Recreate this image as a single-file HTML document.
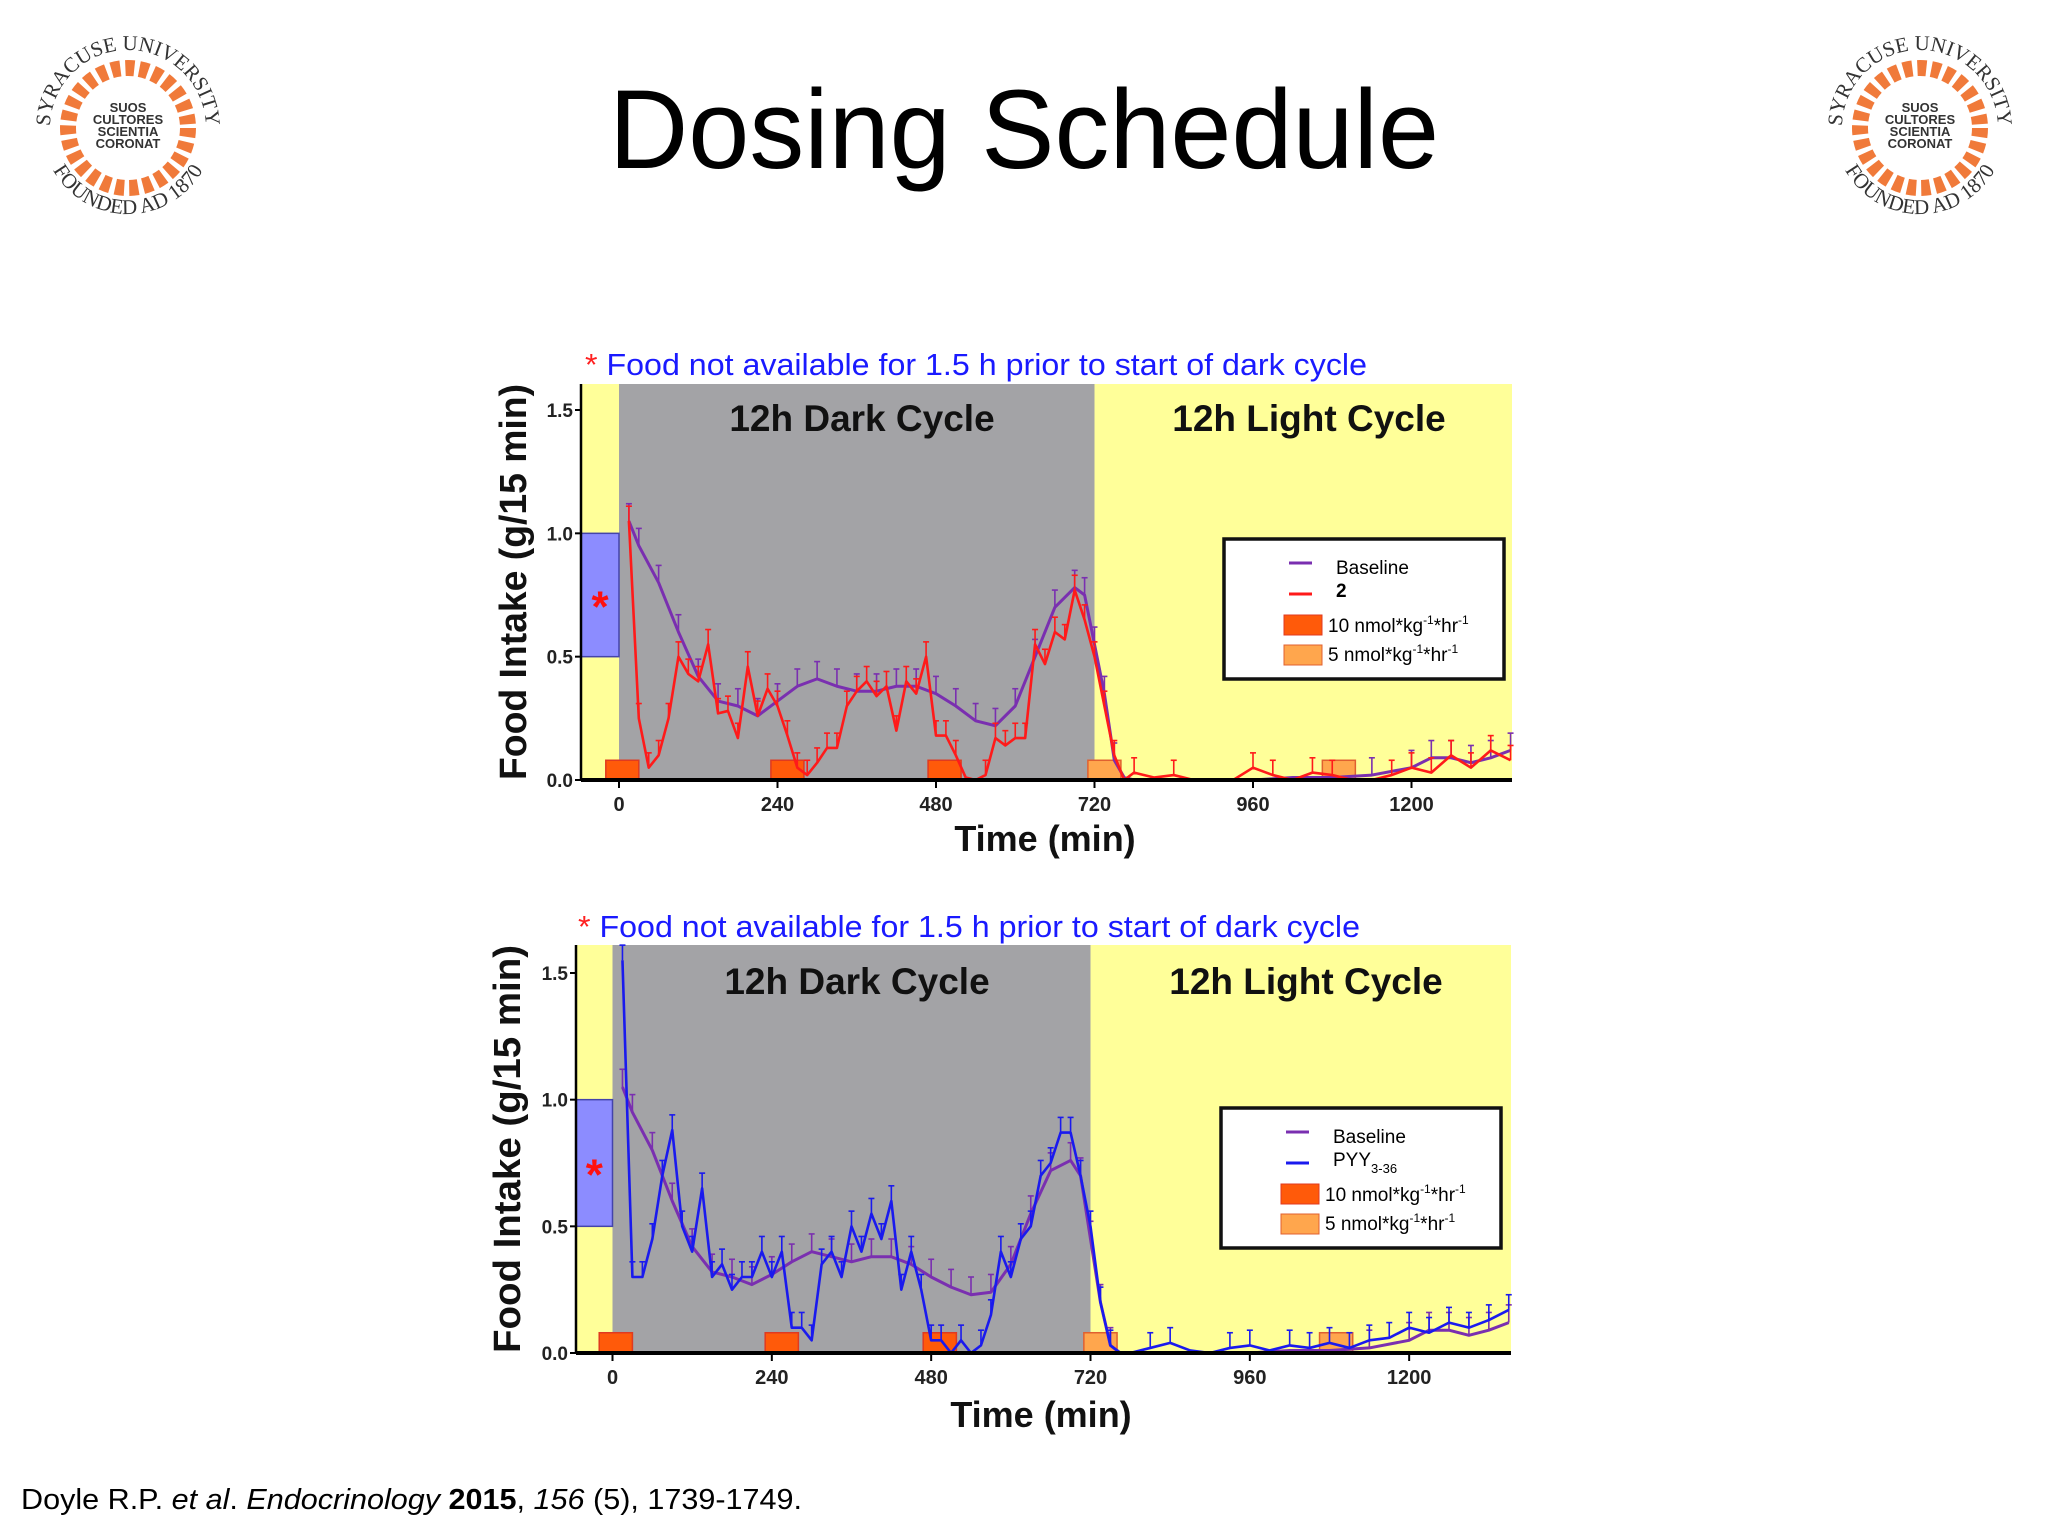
<!DOCTYPE html>
<html><head><meta charset="utf-8"><style>
html,body{margin:0;padding:0;background:#fff;}
svg{display:block;font-family:"Liberation Sans",Arial,sans-serif;}
</style></head><body>
<svg id="page" width="2048" height="1536" viewBox="0 0 2048 1536" xmlns="http://www.w3.org/2000/svg">
<defs>
<path id="ringTop" d="M 50 128 A 78 78 0 0 1 206 128"/>
<path id="ringBot" d="M 42 128 A 86 86 0 0 0 214 128"/>
</defs>
<text x="1024" y="168" text-anchor="middle" font-size="112" textLength="830" lengthAdjust="spacingAndGlyphs">Dosing Schedule</text>
<g id="logoL" transform="translate(0,0)">
 <circle cx="128" cy="128" r="60" fill="none" stroke="#f07a3a" stroke-width="16" stroke-dasharray="9 5"/>
 <text font-size="13" font-weight="bold" fill="#333" text-anchor="middle"><tspan x="128" y="112">SUOS</tspan><tspan x="128" y="124">CULTORES</tspan><tspan x="128" y="136">SCIENTIA</tspan><tspan x="128" y="148">CORONAT</tspan></text>
 <text font-family="Liberation Serif,serif" font-size="21" fill="#333"><textPath href="#ringTop" startOffset="50%" text-anchor="middle">SYRACUSE UNIVERSITY</textPath></text>
 <text font-family="Liberation Serif,serif" font-size="21" fill="#333"><textPath href="#ringBot" startOffset="50%" text-anchor="middle">FOUNDED AD 1870</textPath></text>
</g>
<g transform="translate(1792,0)">
 <circle cx="128" cy="128" r="60" fill="none" stroke="#f07a3a" stroke-width="16" stroke-dasharray="9 5"/>
 <text font-size="13" font-weight="bold" fill="#333" text-anchor="middle"><tspan x="128" y="112">SUOS</tspan><tspan x="128" y="124">CULTORES</tspan><tspan x="128" y="136">SCIENTIA</tspan><tspan x="128" y="148">CORONAT</tspan></text>
 <text font-family="Liberation Serif,serif" font-size="21" fill="#333"><textPath href="#ringTop" startOffset="50%" text-anchor="middle">SYRACUSE UNIVERSITY</textPath></text>
 <text font-family="Liberation Serif,serif" font-size="21" fill="#333"><textPath href="#ringBot" startOffset="50%" text-anchor="middle">FOUNDED AD 1870</textPath></text>
</g>
<text x="21" y="1509" font-size="29" textLength="781" lengthAdjust="spacingAndGlyphs">Doyle R.P. <tspan font-style="italic">et al</tspan>. <tspan font-style="italic">Endocrinology</tspan> <tspan font-weight="bold">2015</tspan>, <tspan font-style="italic">156</tspan> (5), 1739-1749.</text>
<g id="chart1"></g>
<g id="chart2"></g>
</svg>
<script>
// ---- data (top chart) ----
const tTreat1 = [15,30,45,60,75,90,105,120,135,150,165,180,195,210,225,240,255,270,285,300,315,330,345,360,375,390,405,420,435,450,465,480,495,510,525,540,555,570,585,600,615,630,645,660,675,690,705,720,735,750,765,780,810,840,870,900,930,960,990,1020,1050,1080,1110,1140,1170,1200,1230,1260,1290,1320,1350];
const treat1 = [1.05,0.25,0.05,0.1,0.25,0.5,0.43,0.4,0.55,0.27,0.28,0.17,0.46,0.26,0.37,0.3,0.18,0.05,0.02,0.07,0.13,0.13,0.3,0.36,0.4,0.34,0.38,0.2,0.4,0.35,0.5,0.18,0.18,0.1,0.01,0.0,0.02,0.17,0.14,0.17,0.17,0.55,0.47,0.6,0.57,0.77,0.65,0.5,0.3,0.1,0.0,0.03,0.01,0.02,0.0,0.0,0.0,0.05,0.02,0.0,0.03,0.02,0.0,0.0,0.02,0.05,0.03,0.1,0.05,0.12,0.08];
const tBase1 = [15,30,60,90,120,150,180,210,240,270,300,330,360,390,420,450,480,510,540,570,600,630,660,690,705,720,735,750,765,780,840,900,960,1020,1080,1140,1200,1230,1260,1290,1320,1350];
const base1 = [1.05,0.95,0.8,0.6,0.42,0.32,0.3,0.26,0.32,0.38,0.41,0.38,0.36,0.36,0.38,0.38,0.35,0.3,0.24,0.22,0.3,0.5,0.7,0.78,0.75,0.55,0.35,0.08,0.01,0.0,0.0,0.0,0.0,0.01,0.01,0.02,0.05,0.09,0.09,0.07,0.09,0.12];
// ---- data (bottom chart) ----
const tTreat2 = [15,30,45,60,75,90,105,120,135,150,165,180,195,210,225,240,255,270,285,300,315,330,345,360,375,390,405,420,435,450,465,480,495,510,525,540,555,570,585,600,615,630,645,660,675,690,705,720,735,750,765,780,810,840,870,900,930,960,990,1020,1050,1080,1110,1140,1170,1200,1230,1260,1290,1320,1350];
const treat2 = [1.55,0.3,0.3,0.45,0.7,0.88,0.5,0.4,0.65,0.3,0.35,0.25,0.3,0.3,0.4,0.3,0.4,0.1,0.1,0.05,0.35,0.4,0.3,0.5,0.4,0.55,0.45,0.6,0.25,0.4,0.25,0.05,0.05,0.0,0.05,0.0,0.03,0.15,0.4,0.3,0.45,0.5,0.7,0.75,0.87,0.87,0.7,0.5,0.2,0.03,0.0,0.0,0.02,0.04,0.01,0.0,0.02,0.03,0.01,0.03,0.02,0.04,0.02,0.05,0.06,0.1,0.08,0.12,0.1,0.13,0.17];
const tBase2 = [15,30,60,90,120,150,180,210,240,270,300,330,360,390,420,450,480,510,540,570,600,630,660,690,705,720,735,750,765,780,840,900,960,1020,1080,1140,1200,1230,1260,1290,1320,1350];
const base2 = [1.05,0.95,0.8,0.6,0.42,0.32,0.3,0.27,0.31,0.36,0.4,0.38,0.36,0.38,0.38,0.35,0.3,0.26,0.23,0.24,0.35,0.55,0.72,0.76,0.7,0.45,0.2,0.03,0.0,0.0,0.0,0.0,0.0,0.01,0.01,0.02,0.05,0.09,0.09,0.07,0.09,0.12];
// dose periods [start,end] minutes
const doseHigh = [[-20,30],[230,280],[468,518]];
const doseLow = [[710,760],[1065,1115]];
const yTicks = [0.0,0.5,1.0,1.5];
const yTickLabels = ["0.0","0.5","1.0","1.5"];
const xTicks = [0,240,480,720,960,1200];
const errBase = 0.07;
const errTreat = 0.06;

const NS = "http://www.w3.org/2000/svg";
function mk(parent, tag, attrs){ const e=document.createElementNS(NS,tag); for(const k in attrs) e.setAttribute(k,attrs[k]); parent.appendChild(e); return e; }

function drawChart(g, c){
  const X = t => c.x0 + t*(c.x720-c.x0)/720;
  const Y = v => c.y0 - v*(c.y0-c.y15)/1.5;
  let e;
  e = mk(g,'rect',{x:c.left,y:c.top,width:c.right-c.left,height:c.y0-c.top,fill:'#ffff99'});
   
  e = mk(g,'rect',{x:X(0),y:c.top,width:X(720)-X(0),height:c.y0-c.top,fill:'#a3a3a6'});
   
  e = mk(g,'rect',{x:c.left,y:Y(1.0),width:X(0)-c.left,height:Y(0.5)-Y(1.0),fill:'#8c8cff',stroke:'#4444aa','stroke-width':1.5});
   
  e = mk(g,'text',{x:(c.left+X(0))/2,y:Y(0.7)+14,'text-anchor':'middle','font-size':44,fill:'#ff1010','font-weight':'bold'}); e.textContent='*';
   
  e = mk(g,'text',{x:c.darkX,y:c.cycY,'text-anchor':'middle','font-size':37,'font-weight':'bold',fill:'#111'}); e.textContent='12h Dark Cycle';
   
  e = mk(g,'text',{x:c.lightX,y:c.cycY,'text-anchor':'middle','font-size':37,'font-weight':'bold',fill:'#111'}); e.textContent='12h Light Cycle';
   
  doseHigh.forEach(d=>{ e=mk(g,'rect',{x:X(d[0]),y:Y(0.08),width:X(d[1])-X(d[0]),height:Y(0)-Y(0.08),fill:'#ff5a0a',stroke:'#e03a20','stroke-width':1.5});
      });
  doseLow.forEach(d=>{ e=mk(g,'rect',{x:X(d[0]),y:Y(0.08),width:X(d[1])-X(d[0]),height:Y(0)-Y(0.08),fill:'#ffa64d',stroke:'#e06030','stroke-width':1.5});
      });
  function series(ts, vs, err, color, w, name){
    const sg = mk(g,'g',{});
     
    ts.forEach((t,i)=>{ if(vs[i]>0.015){ const l=mk(sg,'line',{x1:X(t),x2:X(t),y1:Y(vs[i]),y2:Y(vs[i]+err),stroke:color,'stroke-width':1.6});
       
      const cap=mk(sg,'line',{x1:X(t)-3,x2:X(t)+3,y1:Y(vs[i]+err),y2:Y(vs[i]+err),stroke:color,'stroke-width':1.6});
        }});
    const p = mk(sg,'polyline',{points:ts.map((t,i)=>X(t)+','+Y(vs[i])).join(' '),fill:'none',stroke:color,'stroke-width':w,'stroke-linejoin':'round'});
     
  }
  series(c.tb, c.b, errBase, '#7a2fb0', 3, 'baseline-series');
  series(c.tt, c.v, errTreat, c.col, 2.6, c.sname);
  e = mk(g,'line',{x1:c.left,x2:c.left,y1:c.top,y2:c.y0,stroke:'#000','stroke-width':2.5});
   
  e = mk(g,'line',{x1:c.left,x2:c.right,y1:c.y0,y2:c.y0,stroke:'#000','stroke-width':4});
   
  yTicks.forEach((v,i)=>{ e=mk(g,'line',{x1:c.left-6,x2:c.left,y1:Y(v),y2:Y(v),stroke:'#000','stroke-width':2});
     
    e=mk(g,'text',{x:c.left-8,y:Y(v)+7,'text-anchor':'end','font-size':19,'font-weight':'bold',fill:'#222'}); e.textContent=yTickLabels[i];
      });
  xTicks.forEach(t=>{ e=mk(g,'line',{x1:X(t),x2:X(t),y1:c.y0,y2:c.y0+8,stroke:'#000','stroke-width':2});
     
    e=mk(g,'text',{x:X(t),y:c.y0+31,'text-anchor':'middle','font-size':20,'font-weight':'bold',fill:'#222'}); e.textContent=String(t);
      });
  e = mk(g,'text',{x:c.xTitleX,y:c.xTitleY,'text-anchor':'middle','font-size':36,'font-weight':'bold',fill:'#111'}); e.textContent='Time (min)';
   
  const ym=(c.top+c.y0)/2;
  e = mk(g,'text',{x:c.yTitleX,y:ym,'text-anchor':'middle','font-size':38,'font-weight':'bold',fill:'#111',transform:`rotate(-90 ${c.yTitleX} ${ym})`,textLength:c.y0-c.top,lengthAdjust:'spacingAndGlyphs'}); e.textContent='Food Intake (g/15 min)';
   
  e = mk(g,'text',{x:c.noteX,y:c.noteY,'font-size':31,fill:'#1a1aff',textLength:782,lengthAdjust:'spacingAndGlyphs'});
  e.innerHTML='<tspan fill="#ff2020">*</tspan> Food not available for 1.5 h prior to start of dark cycle';
   
  const L = mk(g,'g',{});  
  const lx=c.lx, ly=c.ly;
  e=mk(L,'rect',{x:lx,y:ly,width:280,height:140,fill:'#fff',stroke:'#111','stroke-width':3.5});
   
  e=mk(L,'line',{x1:lx+65,x2:lx+88,y1:ly+24,y2:ly+24,stroke:'#7a2fb0','stroke-width':3});
   
  e=mk(L,'text',{x:lx+112,y:ly+35,'font-size':19}); e.textContent='Baseline';
   
  e=mk(L,'line',{x1:lx+65,x2:lx+88,y1:ly+55,y2:ly+55,stroke:c.col,'stroke-width':3});
   
  e=mk(L,'text',{x:lx+112,y:ly+58,'font-size':19,'font-weight':c.legBold?'bold':'normal'}); e.innerHTML=c.legLabel;
   
  e=mk(L,'rect',{x:lx+60,y:ly+76,width:38,height:20,fill:'#ff5a0a',stroke:'#e03a20'});
   
  e=mk(L,'text',{x:lx+104,y:ly+93,'font-size':19}); e.innerHTML='10 nmol*kg<tspan dy="-8" font-size="12">-1</tspan><tspan dy="8">*hr</tspan><tspan dy="-8" font-size="12">-1</tspan>';
   
  e=mk(L,'rect',{x:lx+60,y:ly+106,width:38,height:20,fill:'#ffa64d',stroke:'#e06030'});
   
  e=mk(L,'text',{x:lx+104,y:ly+122,'font-size':19}); e.innerHTML='5 nmol*kg<tspan dy="-8" font-size="12">-1</tspan><tspan dy="8">*hr</tspan><tspan dy="-8" font-size="12">-1</tspan>';
   
}

drawChart(document.getElementById('chart1'),{x0:619,x720:1094.5,y0:780,y15:410,left:581,right:1512,top:384,
  tb:tBase1,b:base1,tt:tTreat1,v:treat1,col:'#ff1a1a',sname:'compound-2-series',legLabel:'2',legBold:true,
  darkX:862,lightX:1309,cycY:431,xTitleX:1045,xTitleY:851,yTitleX:526,noteX:585,noteY:375,lx:1224,ly:539});
drawChart(document.getElementById('chart2'),{x0:612.5,x720:1090.5,y0:1353,y15:973,left:576,right:1511,top:945,
  tb:tBase2,b:base2,tt:tTreat2,v:treat2,col:'#1a1aee',sname:'pyy-series',legLabel:'PYY<tspan dy="7" font-size="13">3-36</tspan>',legBold:false,
  darkX:857,lightX:1306,cycY:994,xTitleX:1041,xTitleY:1427,yTitleX:520,noteX:578,noteY:937,lx:1221,ly:1108});
</script>
</body></html>
